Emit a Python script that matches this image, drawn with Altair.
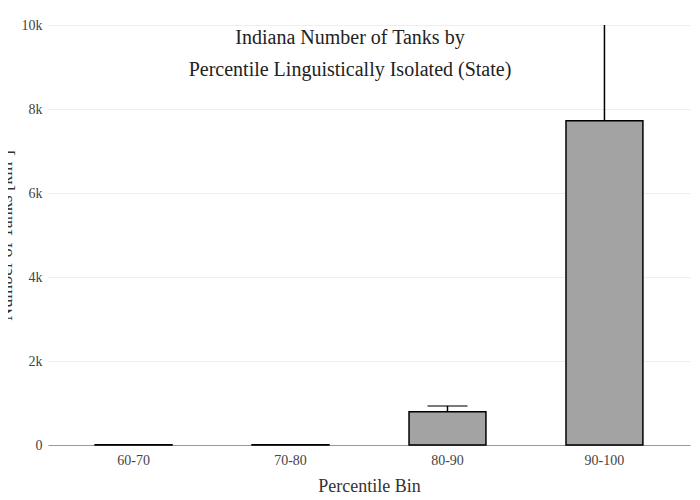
import pandas as pd
import altair as alt

bins = ["60-70", "70-80", "80-90", "90-100"]
tanks = [5, 5, 790, 7720]
upper = [5, 5, 930, 11000]

df = pd.DataFrame({"bin": bins, "tanks": tanks, "upper": upper})
df["cap"] = df["upper"].where(df["upper"] <= 10000)
df["has_err"] = df["upper"] > df["tanks"] + 10

font = "Liberation Serif"
x = alt.X("bin:N", title="Percentile Bin", sort=bins,
          scale=alt.Scale(paddingInner=0.51, paddingOuter=0.3),
          axis=alt.Axis(labelAngle=0, labelFontSize=14, titleFontSize=18,
                        labelColor="#444", titleColor="#333", domainColor="#999",
                        ticks=False, labelPadding=8, titlePadding=10))
yscale = alt.Scale(domain=[0, 10000], clamp=True)

bars = alt.Chart(df).mark_bar(color="#a3a3a3", stroke="black", strokeWidth=1.5).encode(
    x=x,
    y=alt.Y("tanks:Q", scale=yscale, title="Number of Tanks  [km²]",
            axis=alt.Axis(values=[0, 2000, 4000, 6000, 8000, 10000], labelOverlap=False,
                          labelExpr="datum.value == 0 ? '0' : (datum.value / 1000) + 'k'",
                          labelFontSize=14, titleFontSize=18,
                          labelColor="#444", titleColor="#333", domain=False, ticks=False,
                          gridColor="#eee", labelPadding=6, titlePadding=6)),
)
err = alt.Chart(df).transform_filter("datum.has_err").mark_rule(color="black", strokeWidth=1.5).encode(
    x=alt.X("bin:N", sort=bins), y=alt.Y("tanks:Q", scale=yscale), y2="upper:Q")
cap = alt.Chart(df).transform_filter("datum.has_err && isValid(datum.cap)").mark_tick(
    color="black", thickness=1.5, size=40, orient="horizontal").encode(
    x=alt.X("bin:N", sort=bins), y=alt.Y("cap:Q", scale=yscale))

chart = alt.layer(bars, err, cap).properties(
    width=642, height=420, autosize="none",
    padding={"left": 40, "top": 17, "right": 2, "bottom": 47},
    title=alt.TitleParams(["Indiana Number of Tanks by", "Percentile Linguistically Isolated (State)"],
                          fontSize=20, color="#222", anchor="middle", dx=-19,
                          offset=-62, lineHeight=32),
).configure_view(stroke=None).configure_axis(
    labelFont=font, titleFont=font, titleFontWeight="normal"
).configure_title(font=font, fontWeight="normal")

chart.save("out.html", embed_options={"renderer": "svg", "actions": False})
